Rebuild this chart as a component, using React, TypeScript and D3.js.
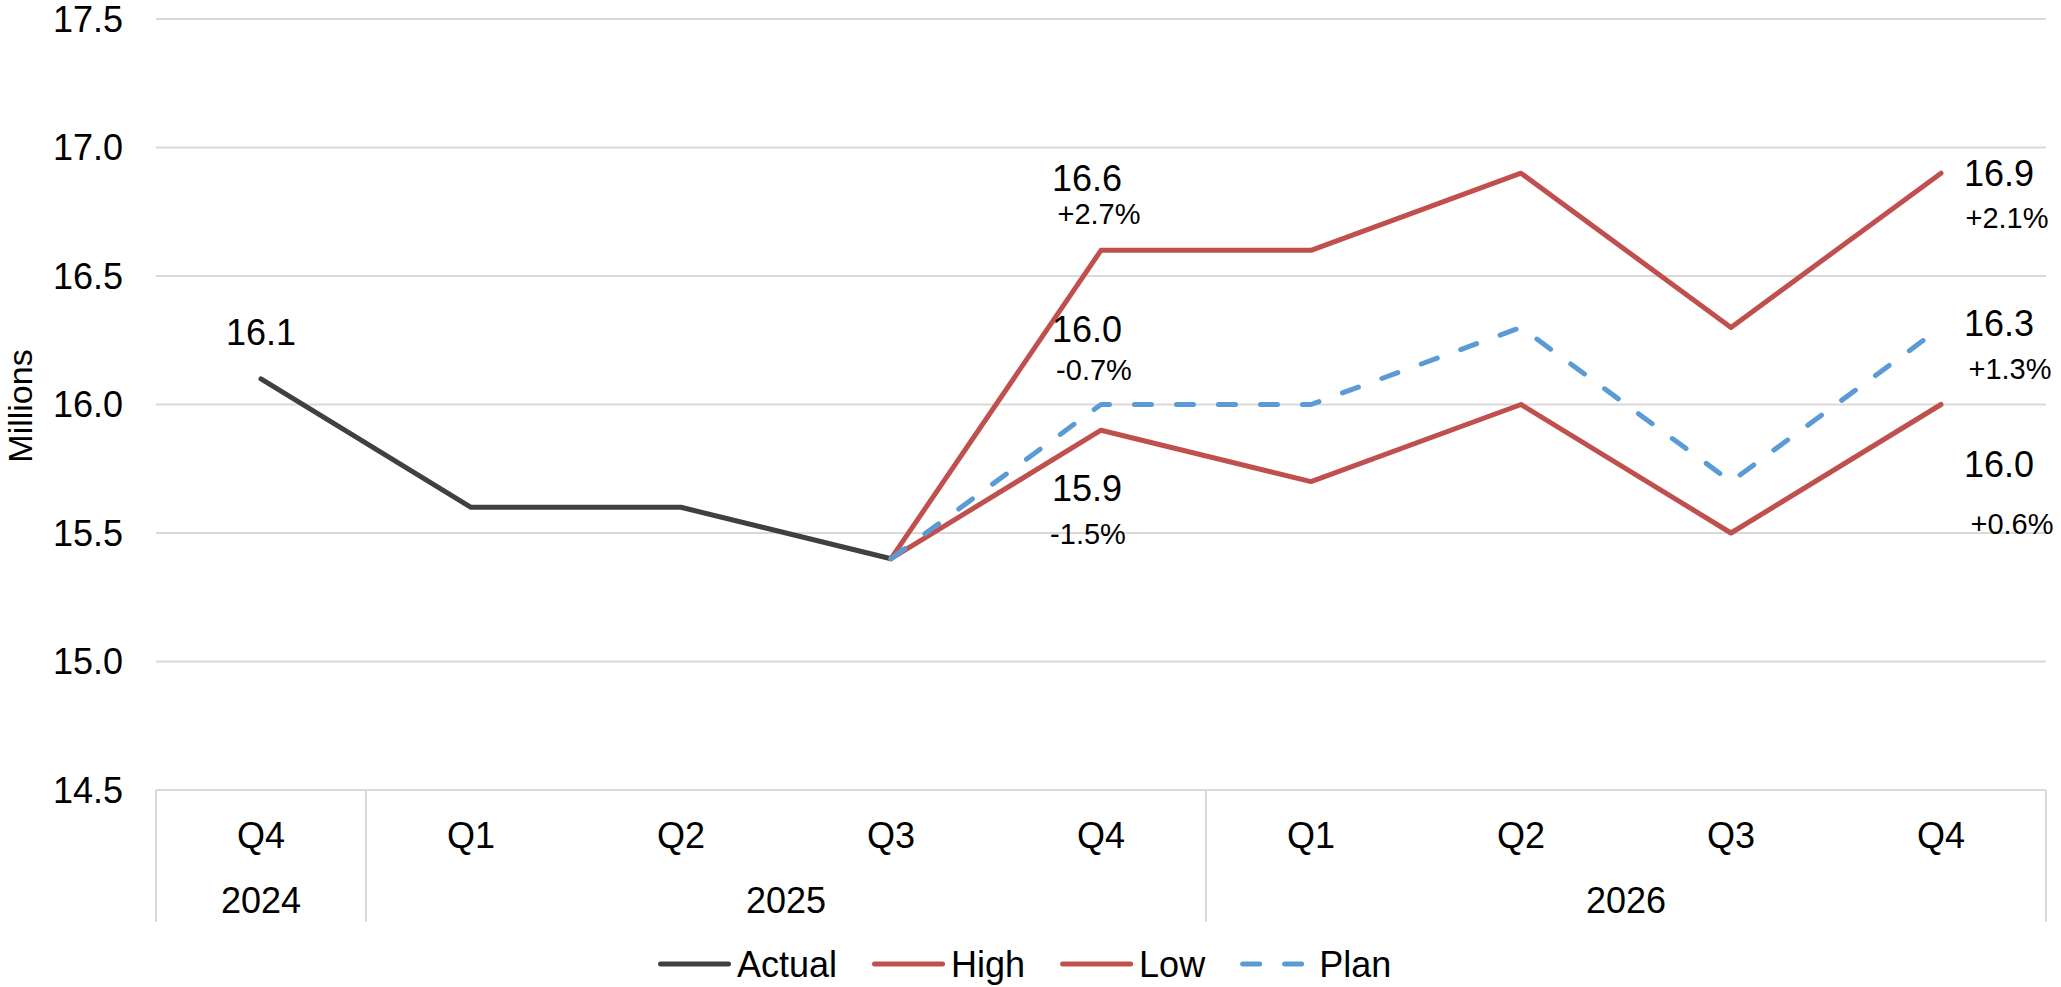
import React, { useEffect } from "react";
import * as d3 from "d3";

// Quarterly categories and the year each belongs to
const quarters = ["Q4", "Q1", "Q2", "Q3", "Q4", "Q1", "Q2", "Q3", "Q4"];
const years = ["2024", "2025", "2025", "2025", "2025", "2026", "2026", "2026", "2026"];

// Series values (millions); null where a series has no point
const actual: (number | null)[] = [16.1, 15.6, 15.6, 15.4, null, null, null, null, null];
const high: (number | null)[] = [null, null, null, 15.4, 16.6, 16.6, 16.9, 16.3, 16.9];
const low: (number | null)[] = [null, null, null, 15.4, 15.9, 15.7, 16.0, 15.5, 16.0];
const plan: (number | null)[] = [null, null, null, 15.4, 16.0, 16.0, 16.3, 15.7, 16.3];

const yTicks = [14.5, 15.0, 15.5, 16.0, 16.5, 17.0, 17.5];

const seriesNames = ["Actual", "High", "Low", "Plan"];

// Percent-change annotations shown under the value labels
const changeLabels = [
  { series: "High", index: 4, text: "+2.7%" },
  { series: "Plan", index: 4, text: "-0.7%" },
  { series: "Low", index: 4, text: "-1.5%" },
  { series: "High", index: 8, text: "+2.1%" },
  { series: "Plan", index: 8, text: "+1.3%" },
  { series: "Low", index: 8, text: "+0.6%" },
];

// Which points carry a value label
const valueLabelPoints = [
  { series: "Actual", index: 0 },
  { series: "High", index: 4 },
  { series: "Plan", index: 4 },
  { series: "Low", index: 4 },
  { series: "High", index: 8 },
  { series: "Plan", index: 8 },
  { series: "Low", index: 8 },
];

const W = 2061;
const H = 987;
const FONT = "'Liberation Sans', Arial, Helvetica, sans-serif";
const GRID = "#D9D9D9";

const styles: Record<string, { color: string; dash?: string }> = {
  Actual: { color: "#404040" },
  High: { color: "#C0504D" },
  Low: { color: "#C0504D" },
  Plan: { color: "#5B9BD5", dash: "17 25" },
};

// Label placement relative to its point: [value dx, value dy, change dx, change dy]
const labelOffsets: Record<string, [number, number, number, number]> = {
  "Actual-0": [0, -46, 0, 0],
  "High-4": [-14, -72, -2, -36],
  "Plan-4": [-14, -75, -7, -35],
  "Low-4": [-14, 58, -13, 104],
  "High-8": [58, 0, 66, 45],
  "Plan-8": [58, -4, 69, 41],
  "Low-8": [58, 60, 71, 119],
};

const seriesData: Record<string, (number | null)[]> = {
  Actual: actual,
  High: high,
  Low: low,
  Plan: plan,
};

function textWidth(t: string, size: number): number {
  const c = document.createElement("canvas").getContext("2d");
  if (!c) return t.length * size * 0.55;
  c.font = `${size}px 'Liberation Sans', Arial, sans-serif`;
  return c.measureText(t).width;
}

export default function App() {
  useEffect(() => {
    document.body.style.margin = "0";
  }, []);

  const ids = quarters.map((_, i) => String(i));
  const x = d3.scaleBand<string>().domain(ids).range([156, 2046]).paddingInner(0).paddingOuter(0);
  const cx = (i: number) => (x(String(i)) as number) + x.bandwidth() / 2;
  const y = d3.scaleLinear().domain([14.5, 17.5]).range([790, 19]);

  const line = d3
    .line<number | null>()
    .defined((d) => d !== null)
    .x((_, i) => cx(i))
    .y((d) => y(d as number));

  // Year groups spanning consecutive categories
  const groups: { year: string; start: number; end: number }[] = [];
  years.forEach((yr, i) => {
    const last = groups[groups.length - 1];
    if (last && last.year === yr) last.end = i;
    else groups.push({ year: yr, start: i, end: i });
  });
  const bandLeft = (i: number) => x(String(i)) as number;
  const bandRight = (i: number) => (x(String(i)) as number) + x.bandwidth();
  const separators = [bandLeft(0), ...groups.map((g) => bandRight(g.end))];

  // Legend layout
  const legendY = 964;
  let lx = 658;
  const legendItems = seriesNames.map((name) => {
    const item = { name, x: lx };
    lx += 73 + 6 + textWidth(name, 36) + 35;
    return item;
  });

  return (
    <svg width={W} height={H} style={{ display: "block", fontFamily: FONT }}>
      <rect width={W} height={H} fill="#fff" />
      {/* horizontal gridlines */}
      {yTicks.map((t) => (
        <line key={t} x1={156} x2={2046} y1={y(t)} y2={y(t)} stroke={GRID} strokeWidth={2} />
      ))}
      {/* y tick labels */}
      {yTicks.map((t) => (
        <text key={"l" + t} x={123} y={y(t)} dy="0.35em" textAnchor="end" fontSize={36} fill="#000">
          {d3.format(".1f")(t)}
        </text>
      ))}
      <text
        transform={`translate(20,406) rotate(-90)`}
        textAnchor="middle"
        dy="0.35em"
        fontSize={34}
        fill="#000"
      >
        Millions
      </text>
      {/* category axis separators */}
      {separators.map((sx, i) => (
        <line key={"s" + i} x1={sx} x2={sx} y1={790} y2={922} stroke={GRID} strokeWidth={2} />
      ))}
      {quarters.map((q, i) => (
        <text key={"q" + i} x={cx(i)} y={835} dy="0.35em" textAnchor="middle" fontSize={36} fill="#000">
          {q}
        </text>
      ))}
      {groups.map((g) => (
        <text
          key={"g" + g.year}
          x={(bandLeft(g.start) + bandRight(g.end)) / 2}
          y={900}
          dy="0.35em"
          textAnchor="middle"
          fontSize={36}
          fill="#000"
        >
          {g.year}
        </text>
      ))}
      {/* series lines */}
      {seriesNames.map((name) => (
        <path
          key={name}
          d={line(seriesData[name]) || ""}
          fill="none"
          stroke={styles[name].color}
          strokeWidth={5}
          strokeLinejoin="round"
          strokeLinecap="round"
          strokeDasharray={styles[name].dash}
        />
      ))}
      {/* value labels */}
      {valueLabelPoints.map((p) => {
        const v = seriesData[p.series][p.index] as number;
        const off = labelOffsets[`${p.series}-${p.index}`];
        return (
          <text
            key={"v" + p.series + p.index}
            x={cx(p.index) + off[0]}
            y={y(v) + off[1]}
            dy="0.35em"
            textAnchor="middle"
            fontSize={36}
            fill="#000"
          >
            {d3.format(".1f")(v)}
          </text>
        );
      })}
      {changeLabels.map((c) => {
        const v = seriesData[c.series][c.index] as number;
        const off = labelOffsets[`${c.series}-${c.index}`];
        return (
          <text
            key={"c" + c.series + c.index}
            x={cx(c.index) + off[2]}
            y={y(v) + off[3]}
            dy="0.35em"
            textAnchor="middle"
            fontSize={29}
            fill="#000"
          >
            {c.text}
          </text>
        );
      })}
      {/* legend */}
      {legendItems.map((it) => (
        <g key={"lg" + it.name}>
          <line
            x1={it.x + 2.5}
            x2={it.x + 73 - 2.5}
            y1={legendY}
            y2={legendY}
            stroke={styles[it.name].color}
            strokeWidth={5}
            strokeLinecap="round"
            strokeDasharray={styles[it.name].dash}
          />
          <text x={it.x + 79} y={legendY} dy="0.35em" fontSize={36} fill="#000">
            {it.name}
          </text>
        </g>
      ))}
    </svg>
  );
}
